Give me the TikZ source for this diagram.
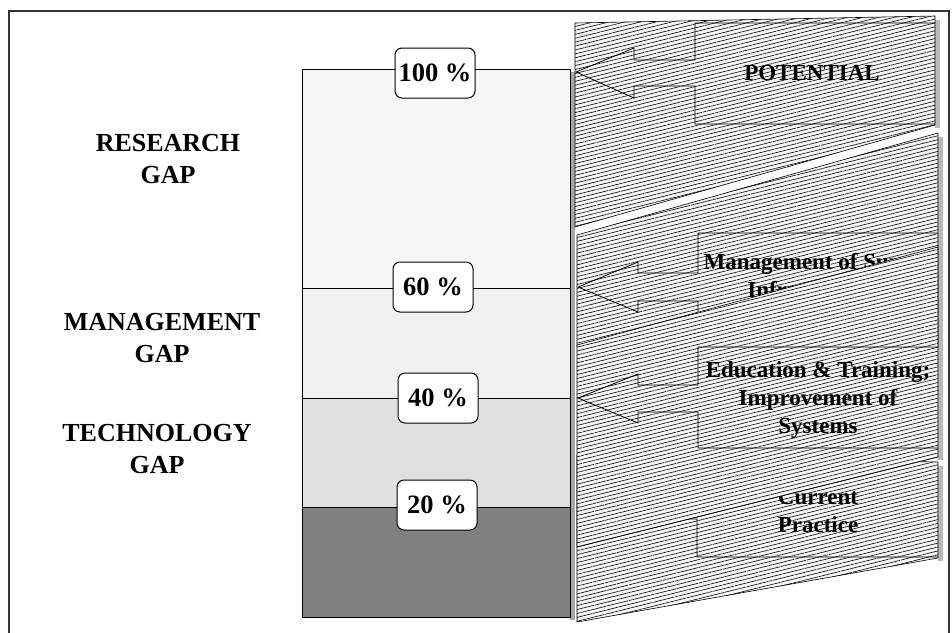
\documentclass[tikz,border=0pt]{standalone}
\usepackage{fontspec}
\setmainfont{Liberation Serif}
\usetikzlibrary{patterns.meta}
\begin{document}
\begin{tikzpicture}[x=1pt,y=-1pt,
  pct/.style={draw=black, line width=1pt, fill=white, rounded corners=7pt, minimum width=80pt, minimum height=50pt, inner sep=0pt, font=\fontsize{26.5}{30}\selectfont\bfseries},
  gaplabel/.style={align=center, font=\fontsize{26}{32}\selectfont\bfseries},
  ptext/.style={align=center, font=\fontsize{23}{28}\selectfont\bfseries},
  hatch/.style={fill=gray!8, postaction={pattern={Lines[angle=14,distance=3.8pt,line width=0.6pt]}, pattern color=black}, draw=black, line width=0.6pt},
  shade/.style={fill=gray!55, draw=none},
  arrowline/.style={draw=black, line width=0.8pt},
  barpart/.style={draw=black, line width=0.8pt}
]
\useasboundingbox (0,0) rectangle (952,632);
\clip (0,0) rectangle (952,632);
\fill[white] (0,0) rectangle (952,632);
% frame
\draw[line width=1.8pt, draw=black!80] (9,11) rectangle (949,660);

% bar
\fill[gray!70] (570,72) rectangle (575,620);
\draw[barpart, fill=black!3] (302,69) rectangle (570,288);
\draw[barpart, fill=black!6] (302,288) rectangle (570,398);
\draw[barpart, fill=black!12] (302,398) rectangle (570,507);
\draw[barpart, fill=black!50] (302,507) rectangle (570,617);

\node[pct] (p100) at (435,73) {100 \%};
\node[pct] (p60) at (433,287) {60 \%};
\node[pct] (p40) at (438,398) {40 \%};
\node[pct] (p20) at (437,505) {20 \%};

\node[gaplabel] (research) at (168,159) {RESEARCH\\GAP};
\node[gaplabel] (management) at (162,338) {MANAGEMENT\\GAP};
\node[gaplabel] (technology) at (157,449) {TECHNOLOGY\\GAP};

% shadows of panels
\fill[shade] (935,20) rectangle (940,128);
\fill[shade] (938,137) rectangle (943,348);
\fill[shade] (938,251) rectangle (943,460);
\fill[shade] (938,466) rectangle (943,561);

% panel A
\path[hatch] (575,23) -- (935,16) -- (935,125) -- (575,227) -- cycle;
\draw[arrowline] (935,23) -- (695,23) -- (695,60) -- (634,60) -- (634,48) -- (576,72) -- (634,98) -- (634,86) -- (695,86) -- (695,124) -- (935,124);
\node[ptext] (potential) at (812,73) {POTENTIAL};

% panel B
\path[hatch] (577,235) -- (938,133) -- (938,346) -- (577,346) -- cycle;
\draw[arrowline] (938,233) -- (698,233) -- (698,273) -- (638,273) -- (638,262) -- (578,287) -- (638,312) -- (638,301) -- (698,301) -- (698,340) -- (938,340);
\node[ptext] (supply) at (818,276) {Management of Supply\\Infrastructure};

% panel D
\path[hatch] (577,455) -- (938,462) -- (938,558) -- (577,622) -- cycle;
\draw[arrowline] (938,456) -- (697,456) -- (697,494) -- (637,494) -- (637,483) -- (578,507) -- (638,532) -- (638,519) -- (697,519) -- (697,557) -- (938,557);
\node[ptext] (current) at (818,511) {Current\\Practice};

% panel C (on top)
\path[hatch] (577,345) -- (938,247) -- (938,457) -- (577,547) -- cycle;
\draw[arrowline] (938,347) -- (698,347) -- (698,385) -- (638,385) -- (638,374) -- (578,398) -- (638,423) -- (638,412) -- (698,412) -- (698,448) -- (938,448);
\node[ptext] (education) at (818,400) {Education \& Training;\\Improvement of\\Systems};
\end{tikzpicture}
\end{document}
